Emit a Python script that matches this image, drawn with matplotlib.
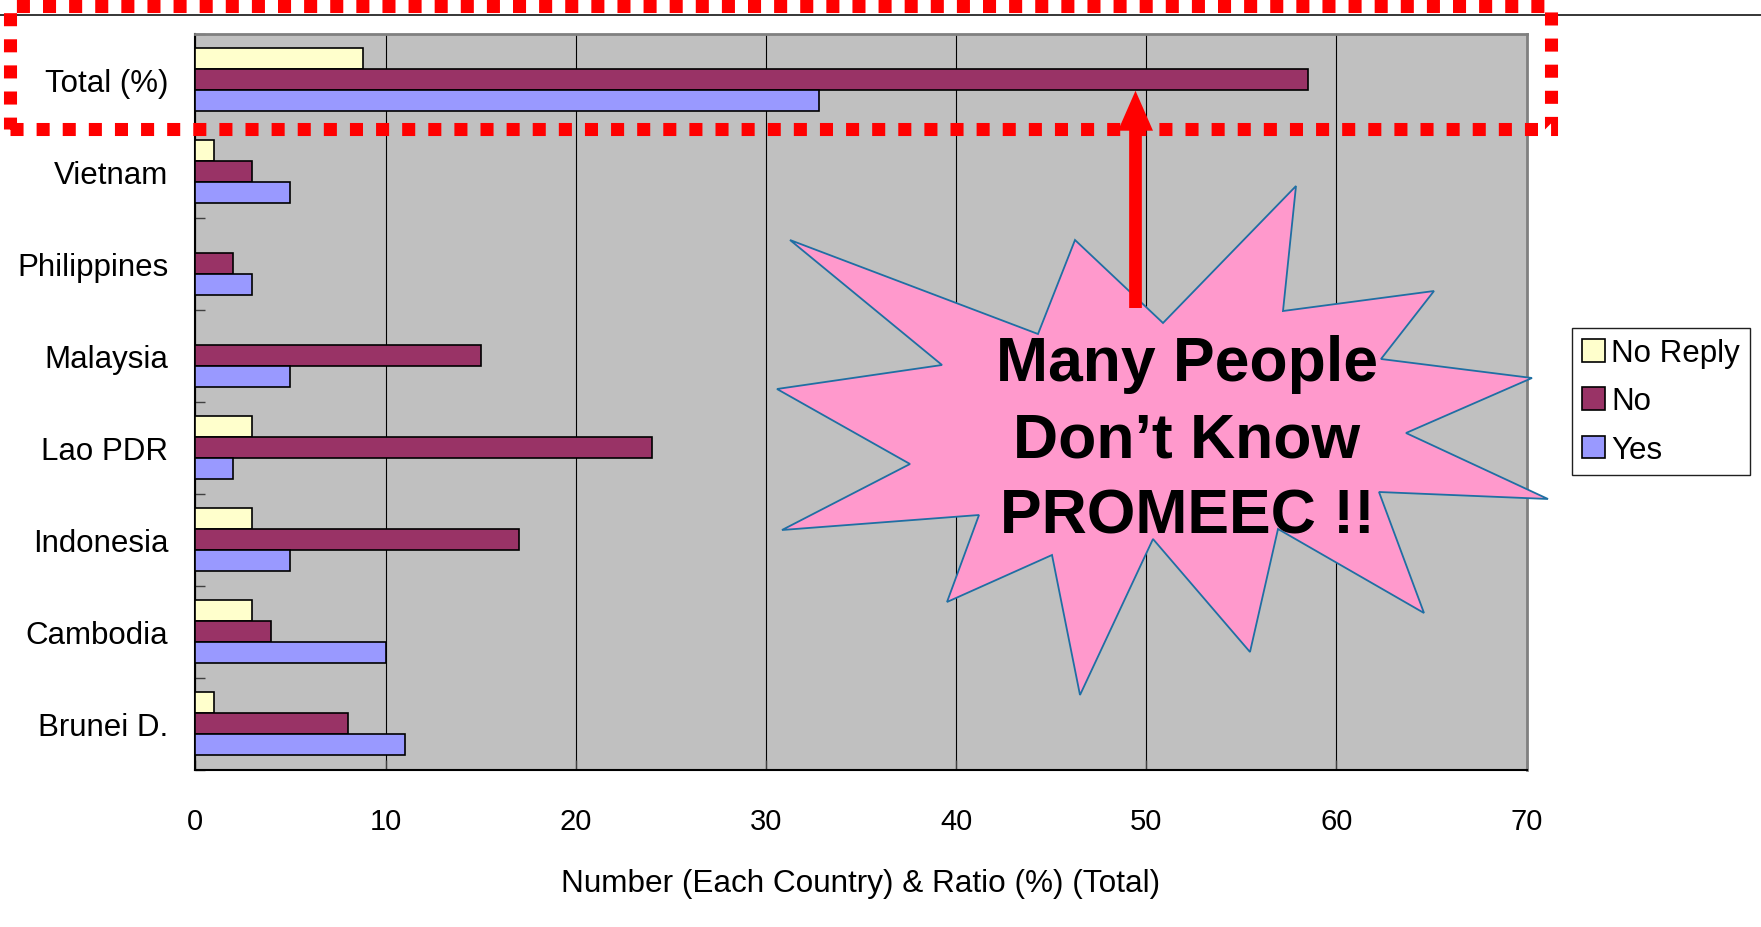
import numpy as np
import matplotlib
matplotlib.use('Agg')
import matplotlib.pyplot as plt
import matplotlib.patches as patches
import matplotlib.lines as mlines

plt.rcParams['font.family'] = 'Liberation Sans'

# data, bottom to top
countries = ['Brunei D.', 'Cambodia', 'Indonesia', 'Lao PDR', 'Malaysia', 'Philippines', 'Vietnam', 'Total (%)']
no_reply = [1, 3, 3, 3, 0, 0, 1, 8.8]
no = [8, 4, 17, 24, 15, 2, 3, 58.5]
yes = [11, 10, 5, 2, 5, 3, 5, 32.8]
series_names = ['No Reply', 'No', 'Yes']
series_cols = ['#FFFFCC', '#993366', '#9999FF']
xticks = [0, 10, 20, 30, 40, 50, 60, 70]

# starburst callout outline, in pixels from top-left of the picture
star_px = [(790, 241), (1038, 335), (1075, 241), (1163, 324), (1296, 187), (1283, 312),
           (1434, 292), (1381, 360), (1532, 379), (1406, 434), (1548, 500), (1379, 493),
           (1424, 614), (1278, 530), (1250, 653), (1153, 540), (1080, 696), (1052, 556),
           (947, 603), (979, 516), (782, 531), (910, 465), (777, 390), (942, 366)]
callout = ['Many People', 'Don\u2019t Know', 'PROMEEC !!']

W, H = 1761, 928
fig = plt.figure(figsize=(W/100, H/100), dpi=100)

def px(x, y):
    #pixel (top-left origin) -> inches for dpi_scale_trans
    return (x/100.0, (H-y)/100.0)

ax = fig.add_axes([195.4/W, 1-770.5/H, (1526.5-195.4)/W, (770.5-34.5)/H])
ax.set_facecolor('#C0C0C0')

y = np.arange(len(countries))
h = 0.228
ax.barh(y + h, no_reply, h, color=series_cols[0], edgecolor='black', lw=1.2, label=series_names[0], zorder=3)
ax.barh(y, no, h, color=series_cols[1], edgecolor='black', lw=1.2, label=series_names[1], zorder=3)
ax.barh(y - h, yes, h, color=series_cols[2], edgecolor='black', lw=1.2, label=series_names[2], zorder=3)

ax.set_xlim(0, 70)
ax.set_ylim(-0.5, len(countries) - 0.5)
ax.set_xticks(xticks)
ax.set_yticks(y)
ax.set_yticklabels(countries, fontsize=22.5)
ax.set_yticks(np.arange(-0.5, len(countries), 1), minor=True)
ax.tick_params(axis='y', which='major', length=0, pad=19.5)
ax.tick_params(axis='y', which='minor', direction='in', length=7, width=1, color='#404040')
ax.tick_params(axis='x', which='major', direction='in', length=7, width=1, color='#404040', pad=27, labelsize=21)

ax.xaxis.grid(True, color='black', lw=0.8)
ax.set_axisbelow(True)
for s in ['left', 'bottom']:
    ax.spines[s].set_color('black')
    ax.spines[s].set_linewidth(1.5)
for s in ['top', 'right']:
    ax.spines[s].set_color('#808080')
    ax.spines[s].set_linewidth(2)

ax.set_xlabel('Number (Each Country) & Ratio (%) (Total)', fontsize=22.7)
ax.xaxis.set_label_coords(0.5, -0.1335)

leg = ax.legend(loc='upper left', bbox_to_anchor=(1572/W, 1-329/H), bbox_transform=fig.transFigure,
                fontsize=22.5, frameon=True, fancybox=False, edgecolor='#202020', framealpha=1,
                borderpad=0.33, borderaxespad=0, handlelength=0.72, handleheight=0.72,
                handletextpad=0.2, labelspacing=0.58)
leg.get_frame().set_linewidth(1)

# top rule
fig.add_artist(mlines.Line2D([0, 1], [1-16/H, 1-16/H], transform=fig.transFigure, color='black', lw=1.1))

# red dotted frame around Total row
x0, y0 = px(10, 130)
fig.add_artist(patches.Rectangle((x0, y0), (1551-10)/100.0, (130-6.5)/100.0, transform=fig.dpi_scale_trans,
                                 fill=False, edgecolor='red', lw=9.4, linestyle=(0, (1, 1)), zorder=6))

# starburst
fig.add_artist(patches.Polygon([px(a, b) for a, b in star_px], closed=True, transform=fig.dpi_scale_trans,
                               facecolor='#FF99CC', edgecolor='#1F6FA3', lw=1.3, zorder=7))

# red arrow
ax0, ay0 = px(1135.5, 309)
fig.add_artist(patches.FancyArrow(ax0, ay0, 0, (309-91.7)/100.0, width=0.127, head_width=0.35,
                                  head_length=0.40, length_includes_head=True,
                                  transform=fig.dpi_scale_trans, color='red', lw=0, zorder=8))

for txt, base in zip(callout, [381, 458, 534]):
    fig.text(1187/W, 1-base/H, txt, ha='center', va='baseline', fontsize=45,
             fontweight='bold', zorder=9)

fig.savefig('out.png', dpi=100)
